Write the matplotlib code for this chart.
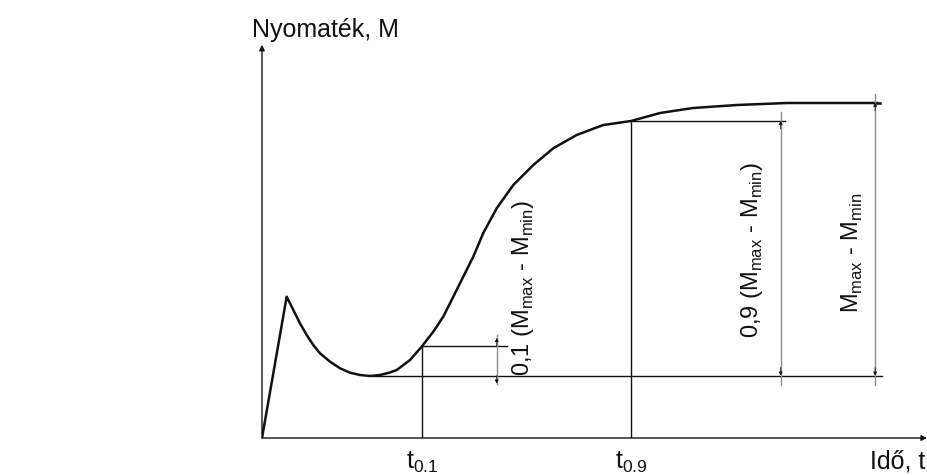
import matplotlib.pyplot as plt

plt.rcParams['font.family'] = ['Liberation Sans', 'DejaVu Sans']
plt.rcParams['mathtext.fontset'] = 'custom'
plt.rcParams['mathtext.rm'] = 'Liberation Sans'

# vulkanizalasi gorbe (ido, nyomatek), leolvasva
ido = [0, 3.71, 4.71, 5.71, 6.72, 7.71, 8.72, 10.23, 11.73, 13.23, 14.74, 16.24, 17.74,
       19.25, 20.26, 22.26, 24.01, 25.76, 27.26, 28.77, 30.27, 31.77, 33.28, 35.29, 37.79,
       40.8, 43.8, 47.32, 51.32, 55.49, 59.85, 64.81, 71.43, 78.95, 92.48]
nyomatek = [0, 35.33, 32.0, 28.68, 25.75, 23.25, 21.18, 19.08, 17.43, 16.33, 15.75, 15.5, 15.75,
            16.38, 17.0, 19.5, 22.83, 26.58, 30.33, 35.33, 40.33, 45.33, 51.25, 57.43, 63.25,
            68.25, 72.43, 75.75, 78.25, 79.25, 81.25, 82.5, 83.25, 83.75, 83.75]

M_min = 15.6
M_01 = 23.0
M_09 = 79.3
M_max = 83.8
t_min = 16.5
t_01 = 24.1
t_09 = 55.5

cimkek_t = ['t$_{\\mathregular{0.1}}$', 't$_{\\mathregular{0.9}}$']
felirat_01 = '0,1 (M$_{\\mathregular{max}}$ - M$_{\\mathregular{min}}$)'
felirat_09 = '0,9 (M$_{\\mathregular{max}}$ - M$_{\\mathregular{min}}$)'
felirat_max = 'M$_{\\mathregular{max}}$ - M$_{\\mathregular{min}}$'

fig = plt.figure(figsize=(9.27, 4.75), dpi=100)
ax = fig.add_axes([262/927, 37/475, 665/927, 400/475])
ax.set_xlim(0, 100)
ax.set_ylim(0, 100)
ax.axis('off')

fekete = '#111111'
szurke = '#8c8c8c'

# tengelyek
ax.annotate('', xy=(100, 0), xytext=(0, 0), annotation_clip=False,
            arrowprops=dict(arrowstyle='-|>', color=fekete, lw=1, mutation_scale=8, shrinkA=0, shrinkB=0))
ax.annotate('', xy=(0, 98.3), xytext=(0, 0), annotation_clip=False,
            arrowprops=dict(arrowstyle='-|>', color=fekete, lw=1, mutation_scale=8, shrinkA=0, shrinkB=0))

# gorbe
ax.plot(ido, nyomatek, color=fekete, lw=1.8, solid_joinstyle='round')

# segedvonalak
ax.plot([t_min, 93.2], [M_min, M_min], color=fekete, lw=1)
ax.plot([t_01, t_01], [0, M_01], color=fekete, lw=1)
ax.plot([t_01, 36.8], [M_01, M_01], color=fekete, lw=1)
ax.plot([t_09, t_09], [0, M_09], color=fekete, lw=1)
ax.plot([t_09, 78.6], [M_09, M_09], color=fekete, lw=1)
ax.plot([92.4, 93.0], [M_max, M_max], color=fekete, lw=1.8)

# meretvonalak
def meret(x, also, felso, ki_also, ki_felso):
    ax.plot([x, x], [ki_also, ki_felso], color=szurke, lw=1)
    for y0, y1 in [(also + 2, also), (felso - 2, felso)]:
        ax.annotate('', xy=(x, y1), xytext=(x, y0),
                    arrowprops=dict(arrowstyle='-|>', color=fekete, lw=0.6, mutation_scale=5,
                                    shrinkA=0, shrinkB=0))

meret(35.3, M_min - 2.0, M_01 + 2.0, M_min - 2.0, M_01 + 2.8)
meret(78.0, M_min, M_09, M_min - 2.3, M_09 + 2.3)
meret(92.2, M_min, M_max, M_min - 2.3, M_max + 2.3)

# feliratok
ax.text(9.6, 102, 'Nyomaték, M', fontsize=18, ha='center', va='center', color=fekete)
ax.text(t_01, -2.9, cimkek_t[0], fontsize=18, ha='center', va='top', color=fekete)
ax.text(t_09, -2.9, cimkek_t[1], fontsize=18, ha='center', va='top', color=fekete)
ax.text(99.8, -2.9, 'Idő, t', fontsize=18, ha='right', va='top', color=fekete)

ax.text((523 - 262) / 6.65, (438 - 288) / 4, felirat_01, fontsize=17, rotation=90,
        ha='center', va='center', color=fekete)
ax.text((752 - 262) / 6.65, (438 - 250) / 4, felirat_09, fontsize=17, rotation=90,
        ha='center', va='center', color=fekete)
ax.text((852 - 262) / 6.65, (438 - 253) / 4, felirat_max, fontsize=17, rotation=90,
        ha='center', va='center', color=fekete)

plt.savefig('out.png', dpi=100)
